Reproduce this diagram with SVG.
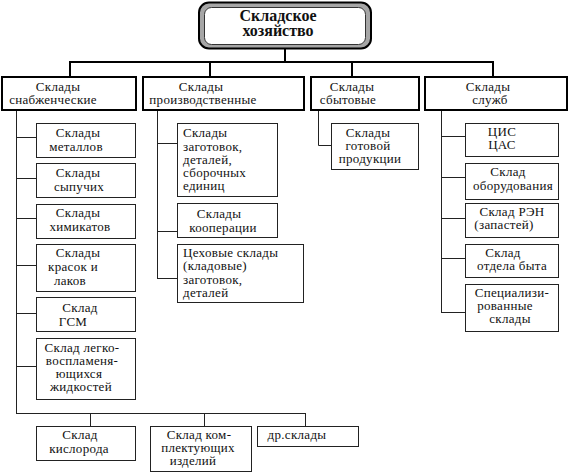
<svg xmlns="http://www.w3.org/2000/svg" width="575" height="474" viewBox="0 0 575 474">
<style>
text{font-family:"Liberation Serif",serif;font-size:13px;fill:#111;letter-spacing:0.3px}
.m{text-anchor:middle}
.t{font-size:16px;font-weight:bold;text-anchor:middle;letter-spacing:0}
.l1{fill:#fff;stroke:#000;stroke-width:2}
.b{fill:#fff;stroke:#222;stroke-width:1}
.c line,.c polyline{stroke:#222;stroke-width:1;fill:none}
.c .k{stroke:#000;stroke-width:2}
</style>
<rect width="575" height="474" fill="#fff"/>
<g class="c" id="connectors">
<line class="k" x1="285" y1="49" x2="285" y2="62"/>
<line class="k" x1="69" y1="62" x2="494" y2="62"/>
<line class="k" x1="70" y1="62" x2="70" y2="77"/>
<line class="k" x1="210" y1="62" x2="210" y2="77"/>
<line class="k" x1="352" y1="62" x2="352" y2="77"/>
<line class="k" x1="493" y1="62" x2="493" y2="77"/>
<line x1="16.5" y1="110" x2="16.5" y2="413.5"/>
<line x1="16" y1="137.5" x2="36" y2="137.5"/>
<line x1="16" y1="178.5" x2="36" y2="178.5"/>
<line x1="16" y1="218.5" x2="36" y2="218.5"/>
<line x1="16" y1="265.5" x2="36" y2="265.5"/>
<line x1="16" y1="313.5" x2="36" y2="313.5"/>
<line x1="16" y1="366.5" x2="36" y2="366.5"/>
<line x1="16" y1="413.5" x2="305.5" y2="413.5"/>
<line x1="90.5" y1="413" x2="90.5" y2="426"/>
<line x1="204.5" y1="413" x2="204.5" y2="426"/>
<line x1="305.5" y1="413" x2="305.5" y2="426"/>
<line x1="157.5" y1="110" x2="157.5" y2="278.5"/>
<line x1="157" y1="143.5" x2="177" y2="143.5"/>
<line x1="157" y1="231.5" x2="177" y2="231.5"/>
<line x1="157" y1="278.5" x2="177" y2="278.5"/>
<polyline points="318.5,110 318.5,145.5 331,145.5"/>
<line x1="441.5" y1="110" x2="441.5" y2="312.5"/>
<line x1="441" y1="136.5" x2="465" y2="136.5"/>
<line x1="441" y1="177.5" x2="465" y2="177.5"/>
<line x1="441" y1="218.5" x2="465" y2="218.5"/>
<line x1="441" y1="258.5" x2="465" y2="258.5"/>
<line x1="441" y1="312.5" x2="465" y2="312.5"/>
</g>
<g id="root">
<rect x="199" y="2.5" width="172" height="46" rx="10" fill="#a6a6a6" stroke="#000" stroke-width="2"/>
<rect x="204.5" y="7.5" width="161" height="37" rx="7" fill="#fff" stroke="#333" stroke-width="1"/>
<text class="t" x="278" y="21">Складское</text>
<text class="t" x="278" y="36">хозяйство</text>
</g>
<g id="n1">
<rect class="l1" x="2" y="77" width="134" height="33"/>
<text class="m" x="58" y="91">Склады</text>
<text class="m" x="53" y="104">снабженческие</text>
</g>
<g id="n2">
<rect class="l1" x="143" y="77" width="161" height="33"/>
<text class="m" x="201" y="91">Склады</text>
<text class="m" x="203" y="104">производственные</text>
</g>
<g id="n3">
<rect class="l1" x="311" y="77" width="108" height="33"/>
<text class="m" x="352" y="91">Склады</text>
<text class="m" x="348" y="104">сбытовые</text>
</g>
<g id="n4">
<rect class="l1" x="425" y="77" width="142" height="33"/>
<text class="m" x="488" y="91">Склады</text>
<text class="m" x="490" y="104">служб</text>
</g>
<g id="n1a">
<rect class="b" x="36.5" y="123.5" width="99" height="34"/>
<text class="m" x="78" y="137">Склады</text>
<text class="m" x="76" y="151">металлов</text>
</g>
<g id="n1b">
<rect class="b" x="36.5" y="163.5" width="99" height="34"/>
<text class="m" x="78" y="177">Склады</text>
<text class="m" x="79" y="191">сыпучих</text>
</g>
<g id="n1c">
<rect class="b" x="36.5" y="204.5" width="99" height="34"/>
<text class="m" x="78" y="217">Склады</text>
<text class="m" x="80" y="231">химикатов</text>
</g>
<g id="n1d">
<rect class="b" x="36.5" y="244.5" width="99" height="47"/>
<text class="m" x="78" y="257">Склады</text>
<text class="m" x="73" y="271">красок и</text>
<text class="m" x="70" y="285">лаков</text>
</g>
<g id="n1e">
<rect class="b" x="36.5" y="297.5" width="99" height="34"/>
<text class="m" x="80" y="312">Склад</text>
<text class="m" x="73" y="326">ГСМ</text>
</g>
<g id="n1f">
<rect class="b" x="36.5" y="338.5" width="99" height="61"/>
<text class="m" x="82" y="352">Склад легко-</text>
<text class="m" x="82" y="365">воспламеня-</text>
<text class="m" x="79" y="378">ющихся</text>
<text class="m" x="81" y="391">жидкостей</text>
</g>
<g id="n1g">
<rect class="b" x="36.5" y="426.5" width="99" height="34"/>
<text class="m" x="80" y="439">Склад</text>
<text class="m" x="79" y="453">кислорода</text>
</g>
<g id="n1h">
<rect class="b" x="150.5" y="426.5" width="101" height="45"/>
<text class="m" x="199" y="439">Склад ком-</text>
<text class="m" x="198" y="452">плектующих</text>
<text class="m" x="193" y="465">изделий</text>
</g>
<g id="n1i">
<rect class="b" x="257.5" y="426.5" width="101" height="20"/>
<text class="m" x="297" y="439">др.склады</text>
</g>
<g id="n2a">
<rect class="b" x="177.5" y="123.5" width="100" height="73"/>
<text x="183" y="137">Склады</text>
<text x="183" y="151">заготовок,</text>
<text x="183" y="164">деталей,</text>
<text x="183" y="177">сборочных</text>
<text x="183" y="190">единиц</text>
</g>
<g id="n2b">
<rect class="b" x="177.5" y="203.5" width="100" height="34"/>
<text class="m" x="219" y="218">Склады</text>
<text class="m" x="223" y="232">кооперации</text>
</g>
<g id="n2c">
<rect class="b" x="177.5" y="244.5" width="126" height="58"/>
<text x="183" y="257">Цеховые склады</text>
<text x="183" y="270">(кладовые)</text>
<text x="183" y="284">заготовок,</text>
<text x="183" y="297">деталей</text>
</g>
<g id="n3a">
<rect class="b" x="331.5" y="123.5" width="87" height="46"/>
<text class="m" x="368" y="137">Склады</text>
<text class="m" x="368" y="150">готовой</text>
<text class="m" x="370" y="163">продукции</text>
</g>
<g id="n4a">
<rect class="b" x="465.5" y="123.5" width="93" height="33"/>
<text class="m" x="502" y="136">ЦИС</text>
<text class="m" x="502" y="149">ЦАС</text>
</g>
<g id="n4b">
<rect class="b" x="465.5" y="163.5" width="93" height="36"/>
<text class="m" x="508" y="176">Склад</text>
<text class="m" x="513" y="190">оборудования</text>
</g>
<g id="n4c">
<rect class="b" x="465.5" y="203.5" width="93" height="34"/>
<text class="m" x="512" y="216">Склад РЭН</text>
<text class="m" x="504" y="229">(запастей)</text>
</g>
<g id="n4d">
<rect class="b" x="465.5" y="244.5" width="93" height="33"/>
<text class="m" x="503" y="257">Склад</text>
<text class="m" x="512" y="270">отдела быта</text>
</g>
<g id="n4e">
<rect class="b" x="465.5" y="284.5" width="93" height="47"/>
<text class="m" x="512" y="297">Специализи-</text>
<text class="m" x="505" y="310">рованные</text>
<text class="m" x="510" y="323">склады</text>
</g>
</svg>
